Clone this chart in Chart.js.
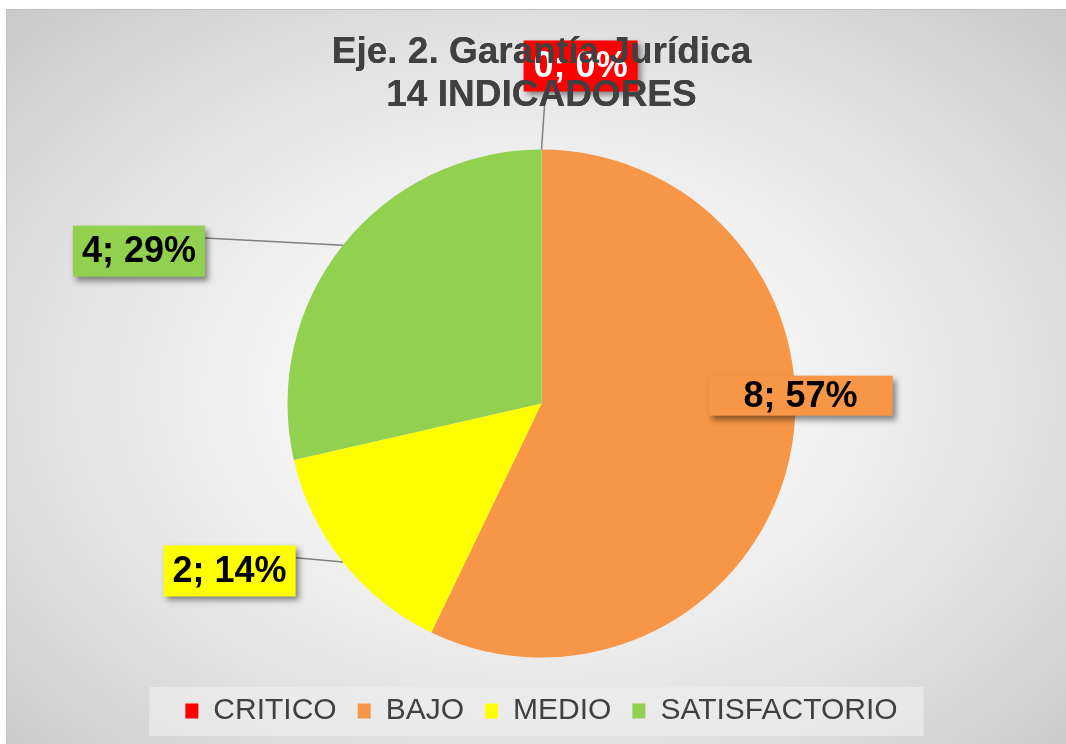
<!DOCTYPE html>
<html>
<head>
<meta charset="utf-8">
<script src="https://cdn.jsdelivr.net/npm/chart.js@4/dist/chart.umd.min.js"></script>
<style>
    html, body { margin: 0; padding: 0; background: #ffffff; }
    #wrap {
        position: absolute;
        left: 6px; top: 9px;
        width: 1060px; height: 735px;
        border-top: 1px solid #bdbdbd;
        border-left: 1px solid #c4c4c4;
        box-sizing: border-box;
        background: radial-gradient(ellipse farthest-corner at 50% 52%, #ffffff 0%, #f6f6f6 30%, #e2e2e2 65%, #c9c9c9 100%);
    }
</style>
</head>
<body>
<div id="wrap"><canvas id="pieChart"></canvas></div>
<script>
// 数据
const categories = ['CRITICO', 'BAJO', 'MEDIO', 'SATISFACTORIO'];
const counts = [0, 8, 2, 4];
const sliceColors = ['#FF0000', '#F79646', '#FFFF00', '#92D050'];
const titleLines = ['Eje. 2. Garantía Jurídica', '14 INDICADORES'];

// 标签样式 (相对圆心, 以半径为单位)
const labelStyle = [
    { dx: 0.154, dy: -1.329, padX: 10, h: 51, color: '#ffffff', leader: true },
    { dx: 1.020, dy: -0.031, padX: 35, h: 40, color: '#000000', leader: false },
    { dx: -1.228, dy: 0.659, padX: 9, h: 51, color: '#000000', leader: true },
    { dx: -1.585, dy: -0.600, padX: 9, h: 51, color: '#000000', leader: true }
];

const FONT = '"Liberation Sans", Arial, sans-serif';

// 图例背景
const legendBgPlugin = {
    id: 'legendBg',
    beforeDraw(chart) {
        const boxes = chart.legend && chart.legend.legendHitBoxes;
        if (!boxes || !boxes.length) return;
        const first = boxes[0], last = boxes[boxes.length - 1];
        const cy = first.top + first.height / 2;
        const ctx = chart.ctx;
        ctx.save();
        ctx.fillStyle = 'rgba(236,236,236,0.75)';
        ctx.fillRect(first.left - 36, cy - 24, last.left + last.width + 26 - (first.left - 36), 49);
        ctx.restore();
    }
};

// 数据标签 (画在扇区之上, 标题之下)
const dataLabelPlugin = {
    id: 'dataLabels',
    afterDatasetsDraw(chart) {
        const ctx = chart.ctx;
        const meta = chart.getDatasetMeta(0);
        const total = counts.reduce((a, b) => a + b, 0);
        const first = meta.data[1];
        const cx = first.x, cy = first.y, r = first.outerRadius;
        ctx.save();
        ctx.font = 'bold 36px ' + FONT;
        counts.forEach((v, i) => {
            const st = labelStyle[i];
            const arc = meta.data[i];
            const text = v + '; ' + Math.round(v / total * 100) + '%';
            const tw = ctx.measureText(text).width;
            const w = tw + st.padX * 2;
            const bx = cx + st.dx * r - w / 2;
            const by = cy + st.dy * r - st.h / 2;

            // 引导线
            if (st.leader) {
                const mid = (arc.startAngle + arc.endAngle) / 2;
                const px = cx + Math.cos(mid) * r;
                const py = cy + Math.sin(mid) * r;
                let ex, ey;
                if (bx + w < px) {
                    ex = bx + w; ey = by + st.h * 0.24;
                } else {
                    ex = px + 4; ey = by + st.h;
                }
                ctx.strokeStyle = '#7f7f7f';
                ctx.lineWidth = 1.5;
                ctx.beginPath();
                ctx.moveTo(px, py);
                ctx.lineTo(ex, ey);
                ctx.stroke();
            }

            // 标签框
            ctx.save();
            ctx.shadowColor = 'rgba(0,0,0,0.45)';
            ctx.shadowBlur = 6;
            ctx.shadowOffsetX = 3;
            ctx.shadowOffsetY = 4;
            ctx.fillStyle = sliceColors[i];
            ctx.fillRect(bx, by, w, st.h);
            ctx.restore();

            ctx.fillStyle = st.color;
            ctx.textAlign = 'center';
            ctx.textBaseline = 'middle';
            ctx.fillText(text, bx + w / 2, by + st.h / 2 + 1);
        });
        ctx.restore();
    },
    afterDraw(chart) {
        // 标题覆盖在标签之上
        if (chart.titleBlock) chart.titleBlock.draw();
    }
};

const ctx = document.getElementById('pieChart').getContext('2d');
const pieChart = new Chart(ctx, {
    type: 'pie',
    data: {
        labels: categories,
        datasets: [{
            data: counts,
            backgroundColor: sliceColors,
            borderWidth: 0,
            radius: 254
        }]
    },
    options: {
        responsive: true,
        maintainAspectRatio: false,
        animation: false,
        layout: { padding: { left: 10, bottom: 8 } },
        plugins: {
            tooltip: { enabled: false },
            title: {
                display: true,
                text: titleLines,
                color: '#404040',
                font: { family: FONT, size: 37, weight: 'bold', lineHeight: 1.15 },
                padding: { top: 22, bottom: 15 }
            },
            legend: {
                position: 'bottom',
                labels: {
                    color: '#404040',
                    font: { family: FONT, size: 30 },
                    boxWidth: 13,
                    boxHeight: 15,
                    padding: 21
                }
            }
        }
    },
    plugins: [legendBgPlugin, dataLabelPlugin]
});
</script>
</body>
</html>
